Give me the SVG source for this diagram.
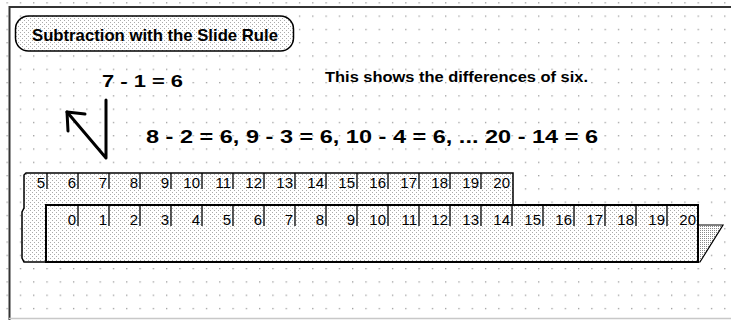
<svg xmlns="http://www.w3.org/2000/svg" width="731" height="320" viewBox="0 0 731 320">
<defs>
<pattern id="grid" patternUnits="userSpaceOnUse" x="6.5" y="15.5" width="13.29" height="13.29">
<rect x="0" y="0" width="1.3" height="1.3" fill="#9a9a9a"/>
</pattern>
<pattern id="stip" patternUnits="userSpaceOnUse" width="4" height="4">
<rect width="4" height="4" fill="#fff"/>
<rect x="0" y="0" width="1" height="1" fill="#aaa"/>
<rect x="2" y="2" width="1" height="1" fill="#aaa"/>
</pattern>
<pattern id="stip2" patternUnits="userSpaceOnUse" width="2" height="2">
<rect width="2" height="2" fill="#fff"/>
<rect x="0" y="0" width="1" height="1" fill="#888"/>
</pattern>
<style>
.t{font-family:"Liberation Sans",Arial,sans-serif;font-weight:bold;fill:#000}
.n{font-family:"Liberation Sans",Arial,sans-serif;font-size:15px;fill:#000;text-anchor:end}
.tk{stroke:#000;stroke-width:1.3}
.ln{stroke:#000;stroke-width:3;fill:none;stroke-linecap:round;stroke-linejoin:round}
</style>
</defs>
<rect width="731" height="320" fill="#fff"/>
<rect width="731" height="320" fill="url(#grid)"/>
<g id="frame">
<line x1="9.5" y1="7" x2="731" y2="7" stroke="#333" stroke-width="2"/>
<line x1="9.5" y1="6" x2="9.5" y2="320" stroke="#333" stroke-width="2"/>
<line x1="9" y1="318.5" x2="731" y2="318.5" stroke="#c8c8c8" stroke-width="1.5"/>
</g>
<g id="title">
<rect x="15.5" y="16" width="278" height="35" rx="13" ry="13" fill="url(#stip)" stroke="#000" stroke-width="1.5"/>
<text class="t" x="32" y="41" font-size="17" textLength="246" lengthAdjust="spacingAndGlyphs">Subtraction with the Slide Rule</text>
</g>
<g id="eq1">
<text class="t" x="102" y="87" font-size="17" textLength="81" lengthAdjust="spacingAndGlyphs">7 - 1 = 6</text>
</g>
<g id="note">
<text class="t" x="325" y="82" font-size="15" textLength="263" lengthAdjust="spacingAndGlyphs">This shows the differences of six.</text>
</g>
<g id="eq2">
<text class="t" x="146" y="143" font-size="18" textLength="452" lengthAdjust="spacingAndGlyphs">8 - 2 = 6, 9 - 3 = 6, 10 - 4 = 6, ... 20 - 14 = 6</text>
</g>
<g id="connectors">
<polyline class="ln" points="106,100 106,158 67,112"/>
<polyline class="ln" points="85,114 67,112 68,131"/>
</g>
<g id="upper-rule">
<path d="M46,262 H24 L22,258 V212 L24,208 V175 L26,173 H513 V205 H46 Z" fill="url(#stip)" stroke="#000" stroke-width="1.5"/>
<g class="tk">
<line x1="47" y1="173" x2="47" y2="189"/><line x1="78" y1="173" x2="78" y2="189"/><line x1="109" y1="173" x2="109" y2="189"/><line x1="140" y1="173" x2="140" y2="189"/><line x1="171" y1="173" x2="171" y2="189"/><line x1="202" y1="173" x2="202" y2="189"/><line x1="233" y1="173" x2="233" y2="189"/><line x1="264" y1="173" x2="264" y2="189"/><line x1="295" y1="173" x2="295" y2="189"/><line x1="326" y1="173" x2="326" y2="189"/><line x1="357" y1="173" x2="357" y2="189"/><line x1="388" y1="173" x2="388" y2="189"/><line x1="419" y1="173" x2="419" y2="189"/><line x1="450" y1="173" x2="450" y2="189"/><line x1="481" y1="173" x2="481" y2="189"/>
</g>
<text class="n" x="45" y="188">5</text><text class="n" x="76" y="188">6</text><text class="n" x="107" y="188">7</text><text class="n" x="138" y="188">8</text><text class="n" x="169" y="188">9</text><text class="n" x="200" y="188">10</text><text class="n" x="231" y="188">11</text><text class="n" x="262" y="188">12</text><text class="n" x="293" y="188">13</text><text class="n" x="324" y="188">14</text><text class="n" x="355" y="188">15</text><text class="n" x="386" y="188">16</text><text class="n" x="417" y="188">17</text><text class="n" x="448" y="188">18</text><text class="n" x="479" y="188">19</text><text class="n" x="510" y="188">20</text>
</g>
<g id="lower-rule">
<polygon points="698,225 723,225 700,262 698,262" fill="url(#stip2)" stroke="#000" stroke-width="1.2"/>
<rect x="46" y="205" width="652" height="57" fill="url(#stip)" stroke="#000" stroke-width="2"/>
<g class="tk">
<line x1="78" y1="205" x2="78" y2="226"/><line x1="109" y1="205" x2="109" y2="226"/><line x1="140" y1="205" x2="140" y2="226"/><line x1="171" y1="205" x2="171" y2="226"/><line x1="202" y1="205" x2="202" y2="226"/><line x1="233" y1="205" x2="233" y2="226"/><line x1="264" y1="205" x2="264" y2="226"/><line x1="295" y1="205" x2="295" y2="226"/><line x1="326" y1="205" x2="326" y2="226"/><line x1="357" y1="205" x2="357" y2="226"/><line x1="388" y1="205" x2="388" y2="226"/><line x1="419" y1="205" x2="419" y2="226"/><line x1="450" y1="205" x2="450" y2="226"/><line x1="481" y1="205" x2="481" y2="226"/><line x1="512" y1="205" x2="512" y2="226"/><line x1="543" y1="205" x2="543" y2="226"/><line x1="574" y1="205" x2="574" y2="226"/><line x1="605" y1="205" x2="605" y2="226"/><line x1="636" y1="205" x2="636" y2="226"/><line x1="667" y1="205" x2="667" y2="226"/>
</g>
<text class="n" x="76" y="225">0</text><text class="n" x="107" y="225">1</text><text class="n" x="138" y="225">2</text><text class="n" x="169" y="225">3</text><text class="n" x="200" y="225">4</text><text class="n" x="231" y="225">5</text><text class="n" x="262" y="225">6</text><text class="n" x="293" y="225">7</text><text class="n" x="324" y="225">8</text><text class="n" x="355" y="225">9</text><text class="n" x="386" y="225">10</text><text class="n" x="417" y="225">11</text><text class="n" x="448" y="225">12</text><text class="n" x="479" y="225">13</text><text class="n" x="510" y="225">14</text><text class="n" x="541" y="225">15</text><text class="n" x="572" y="225">16</text><text class="n" x="603" y="225">17</text><text class="n" x="634" y="225">18</text><text class="n" x="665" y="225">19</text><text class="n" x="696" y="225">20</text>
</g>
</svg>
